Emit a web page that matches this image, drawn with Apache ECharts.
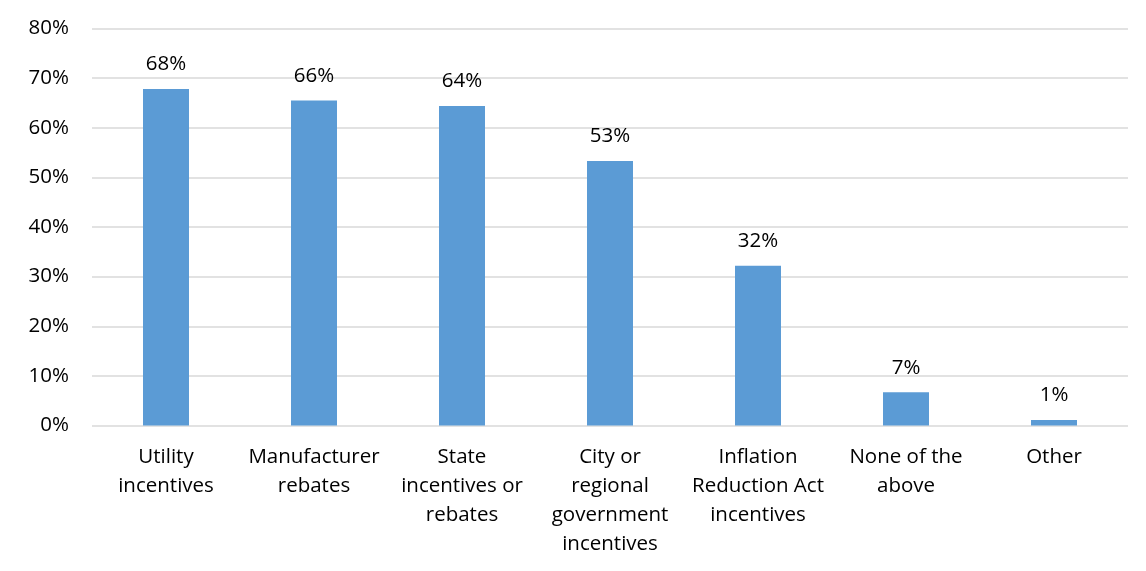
<!DOCTYPE html>
<html>
<head>
<meta charset="utf-8">
<script src="https://cdn.jsdelivr.net/npm/echarts@6/dist/echarts.min.js"></script>
<style>
html,body{margin:0;padding:0;background:#fff;}
#chart{width:1146px;height:571px;}
</style>
</head>
<body>
<div id="chart"></div>
<script>
const categories = [
  "Utility\nincentives",
  "Manufacturer\nrebates",
  "State\nincentives or\nrebates",
  "City or\nregional\ngovernment\nincentives",
  "Inflation\nReduction Act\nincentives",
  "None of the\nabove",
  "Other"
];
const values = [67.8, 65.5, 64.4, 53.3, 32.2, 6.7, 1.1];
const yTicks = [0, 10, 20, 30, 40, 50, 60, 70, 80];

const FONT = "Open Sans";
const FS = 20.5;
const chart = echarts.init(document.getElementById('chart'));
chart.setOption({
  animation: false,
  textStyle: { fontFamily: FONT },
  grid: { left: 92, right: 18, top: 28.5, bottom: 145.5 },
  xAxis: {
    type: 'category',
    data: categories,
    axisLine: { show: false },
    axisTick: { show: false },
    axisLabel: {
      interval: 0,
      color: '#000',
      fontSize: FS,
      fontFamily: FONT,
      lineHeight: 29,
      margin: 17,
      verticalAlign: 'top'
    }
  },
  yAxis: {
    type: 'value',
    min: yTicks[0],
    max: yTicks[yTicks.length - 1],
    interval: 10,
    axisLine: { show: false },
    axisTick: { show: false },
    splitLine: { lineStyle: { color: '#d9d9d9', width: 1.5 } },
    axisLabel: {
      color: '#000',
      fontSize: FS,
      fontFamily: FONT,
      margin: 23,
      formatter: v => v + '%'
    }
  },
  series: [{
    type: 'bar',
    data: values,
    barWidth: 46,
    itemStyle: { color: '#5B9BD5' },
    label: {
      show: true,
      position: 'top',
      distance: 14,
      color: '#000',
      fontSize: FS,
      fontFamily: FONT,
      formatter: p => Math.round(p.value) + '%'
    }
  }]
});
</script>
</body>
</html>
